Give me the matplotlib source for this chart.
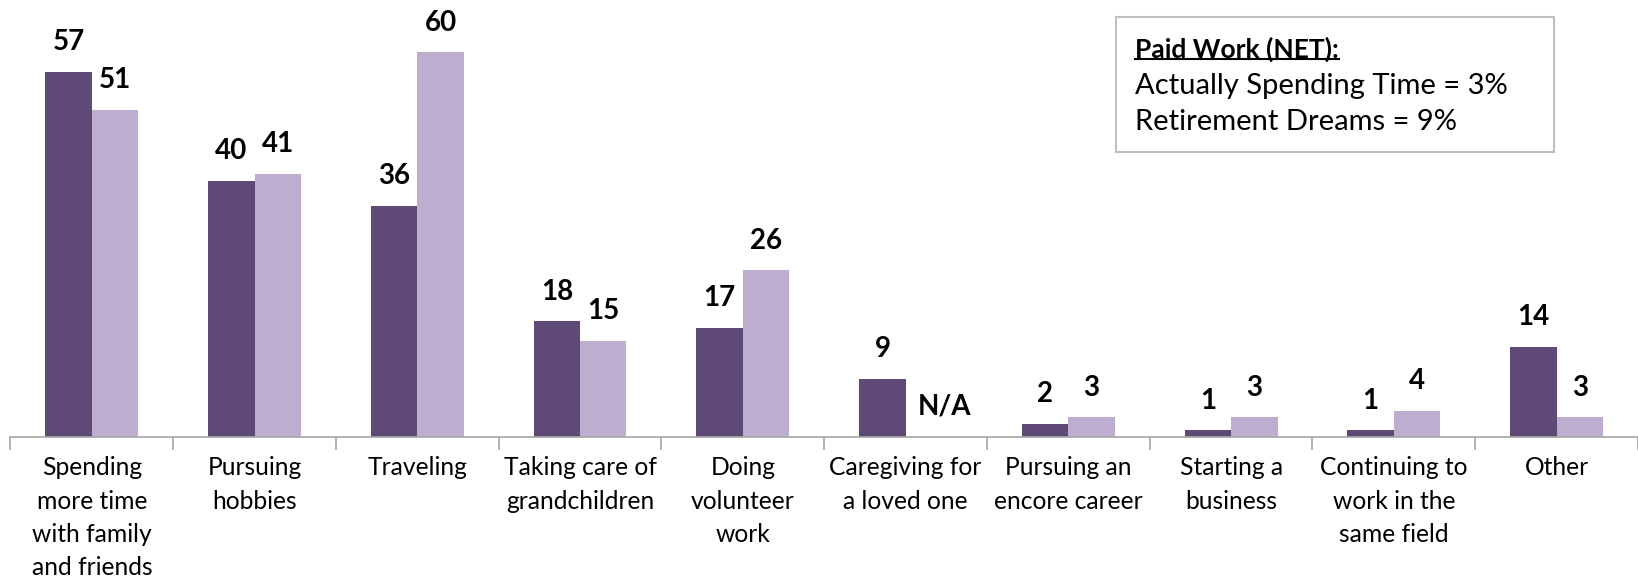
import matplotlib
matplotlib.use('Agg')
import matplotlib.pyplot as plt
from matplotlib.patches import Rectangle
from matplotlib.lines import Line2D
import numpy as np

plt.rcParams['font.family'] = ['Lato', 'DejaVu Sans']

categories = [
    'Spending\nmore time\nwith family\nand friends',
    'Pursuing\nhobbies',
    'Traveling',
    'Taking care of\ngrandchildren',
    'Doing\nvolunteer\nwork',
    'Caregiving for\na loved one',
    'Pursuing an\nencore career',
    'Starting a\nbusiness',
    'Continuing to\nwork in the\nsame field',
    'Other',
]
actually_spending = [57, 40, 36, 18, 17, 9, 2, 1, 1, 14]
retirement_dreams = [51, 41, 60, 15, 26, None, 3, 3, 4, 3]

dark = '#5f4977'
light = '#bdaed0'

fig = plt.figure(figsize=(16.38, 5.81), dpi=100)
ax = fig.add_axes([0.0064, 0.2485, 0.9936, 0.7515])

x = np.arange(len(categories))
w = 0.285
dreams_vals = [v if v is not None else 0 for v in retirement_dreams]
b1 = ax.bar(x - w / 2, actually_spending, w, color=dark, label='Actually Spending Time')
b2 = ax.bar(x + w / 2, dreams_vals, w, color=light, label='Retirement Dreams')

for rect, v in zip(b1, actually_spending):
    ax.annotate(str(v), (rect.get_x() + rect.get_width() / 2, rect.get_height()),
                xytext=(0, 12), textcoords='offset points',
                ha='center', va='bottom', fontsize=20, fontweight='bold')
for rect, v in zip(b2, retirement_dreams):
    if v is None:
        txt, dx = 'N/A', 11
    else:
        txt, dx = str(v), 0
    ax.annotate(txt, (rect.get_x() + rect.get_width() / 2, rect.get_height()),
                xytext=(dx, 12), textcoords='offset points',
                ha='center', va='bottom', fontsize=20, fontweight='bold')

ax.set_xlim(-0.5, len(categories) - 0.5)
ax.set_ylim(0, 68.2)
ax.set_yticks([])
for s in ['top', 'right', 'left']:
    ax.spines[s].set_visible(False)
ax.spines['bottom'].set_color('#a6a6a6')
ax.spines['bottom'].set_linewidth(1.2)

ax.set_xticks(x)
ax.set_xticklabels(categories, fontsize=17.7, linespacing=1.55, va='top')
ax.tick_params(axis='x', which='major', length=0, pad=14)
ax.set_xticks(np.arange(len(categories) + 1) - 0.5, minor=True)
ax.tick_params(axis='x', which='minor', length=9, color='#a6a6a6', width=1.2)

# note box
W, H = 1638.0, 581.0
fig.patches.append(Rectangle((1116 / W, 1 - 152 / H), (1554 - 1116) / W, (152 - 17) / H,
                             transform=fig.transFigure, fill=False,
                             edgecolor='#bfbfbf', linewidth=1.5))
t0 = fig.text(1135 / W, 1 - 49 / H, 'Paid Work (NET):', fontsize=19, fontweight='bold',
              va='center', ha='left')
fig.text(1135 / W, 1 - 86 / H, 'Actually Spending Time = 3%', fontsize=21,
         va='center', ha='left')
fig.text(1135 / W, 1 - 122 / H, 'Retirement Dreams = 9%', fontsize=21,
         va='center', ha='left')

fig.canvas.draw()
bb = t0.get_window_extent().transformed(fig.transFigure.inverted())
uy = bb.y0 + 0.004
fig.lines.append(Line2D([bb.x0, bb.x1], [uy, uy], transform=fig.transFigure,
                        color='black', linewidth=1.5))

fig.savefig('out.png', dpi=100)
